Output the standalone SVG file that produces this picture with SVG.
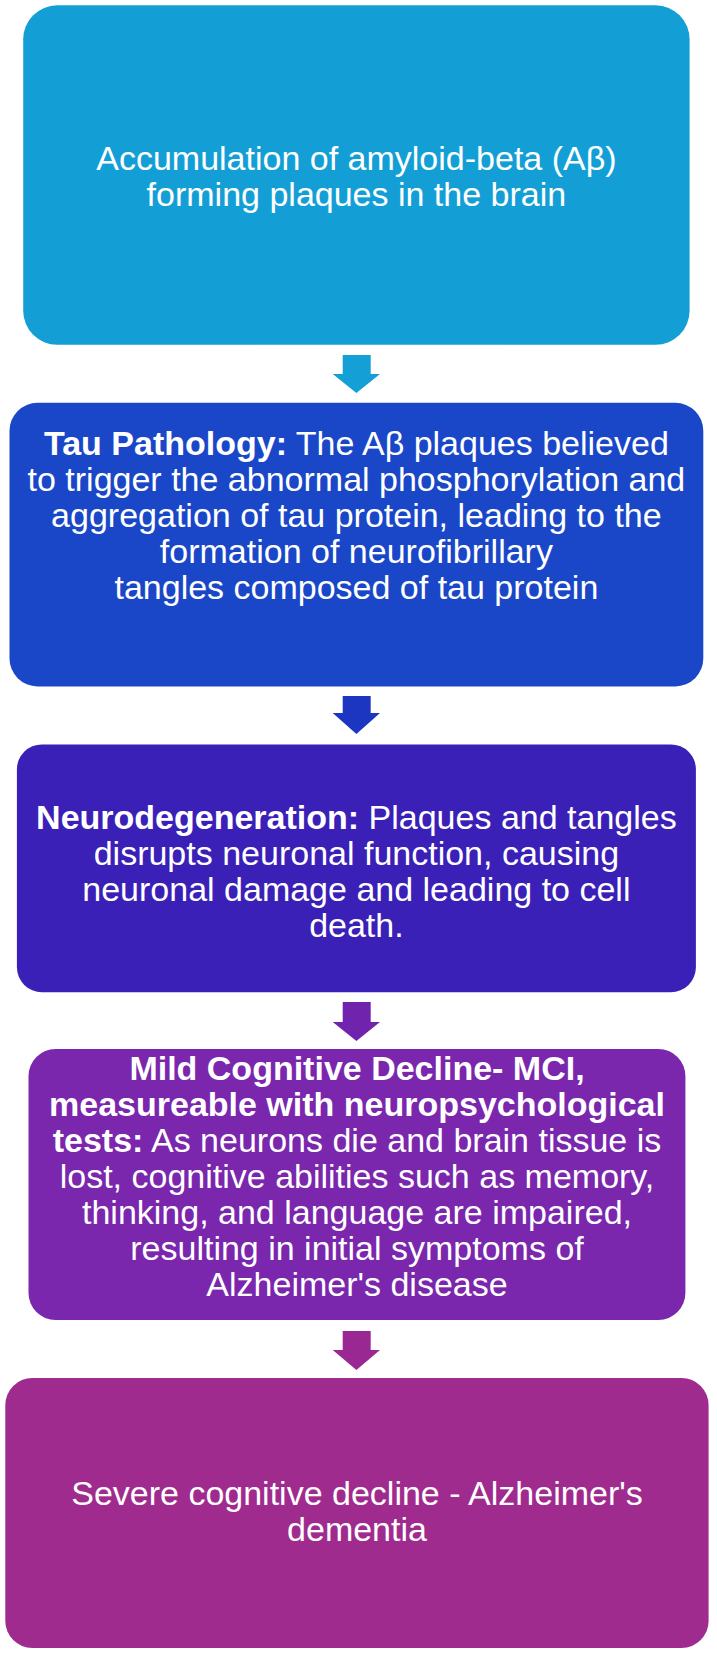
<svg xmlns="http://www.w3.org/2000/svg" width="717" height="1654" viewBox="0 0 717 1654">
<style>
text{font-family:"Liberation Sans",Arial,sans-serif;font-size:34px;fill:#fff;text-anchor:middle}
.b{font-weight:bold}
</style>
<rect width="717" height="1654" fill="#fff"/>
<g id="connectors">
<path d="M342.7 355H370.7V374H380L356.4 393L332.7 374H342.7Z" fill="#149FD7"/>
<path d="M342.7 696H370.7V713H380L356.4 734L332.7 713H342.7Z" fill="#1C36C2"/>
<path d="M342.7 1002H370.7V1022H380L356.4 1041L332.7 1022H342.7Z" fill="#7024AE"/>
<path d="M342.7 1331H370.7V1350H380L356.4 1370L332.7 1350H342.7Z" fill="#9A2893"/>
</g>
<g id="node1">
<rect x="23.2" y="5.3" width="666.4" height="339.5" rx="34" fill="#139FD6"/>
<text x="356.4" y="170">Accumulation of amyloid-beta (Aβ)</text>
<text x="356.4" y="206">forming plaques in the brain</text>
</g>
<g id="node2">
<rect x="9.5" y="402.8" width="693.8" height="283.6" rx="28" fill="#1A47C8"/>
<text x="356.4" y="455"><tspan class="b">Tau Pathology:</tspan> The Aβ plaques believed</text>
<text x="356.4" y="491">to trigger the abnormal phosphorylation and</text>
<text x="356.4" y="527">aggregation of tau protein, leading to the</text>
<text x="356.4" y="563">formation of neurofibrillary</text>
<text x="356.4" y="599">tangles composed of tau protein</text>
</g>
<g id="node3">
<rect x="16.9" y="744.4" width="679" height="247.8" rx="25" fill="#3A20B6"/>
<text x="356.4" y="829"><tspan class="b">Neurodegeneration:</tspan> Plaques and tangles</text>
<text x="356.4" y="865">disrupts neuronal function, causing</text>
<text x="356.4" y="901">neuronal damage and leading to cell</text>
<text x="356.4" y="937">death.</text>
</g>
<g id="node4">
<rect x="28.5" y="1049" width="656.9" height="271" rx="27" fill="#7A26AD"/>
<text x="357" y="1080" class="b">Mild Cognitive Decline- MCI,</text>
<text x="357" y="1116" class="b">measureable with neuropsychological</text>
<text x="357" y="1152"><tspan class="b">tests:</tspan> As neurons die and brain tissue is</text>
<text x="357" y="1188">lost, cognitive abilities such as memory,</text>
<text x="357" y="1224">thinking, and language are impaired,</text>
<text x="357" y="1260">resulting in initial symptoms of</text>
<text x="357" y="1296">Alzheimer's disease</text>
</g>
<g id="node5">
<rect x="5.3" y="1378" width="703.3" height="270" rx="27" fill="#A02B8E"/>
<text x="357" y="1505">Severe cognitive decline - Alzheimer's</text>
<text x="357" y="1541">dementia</text>
</g>
</svg>
